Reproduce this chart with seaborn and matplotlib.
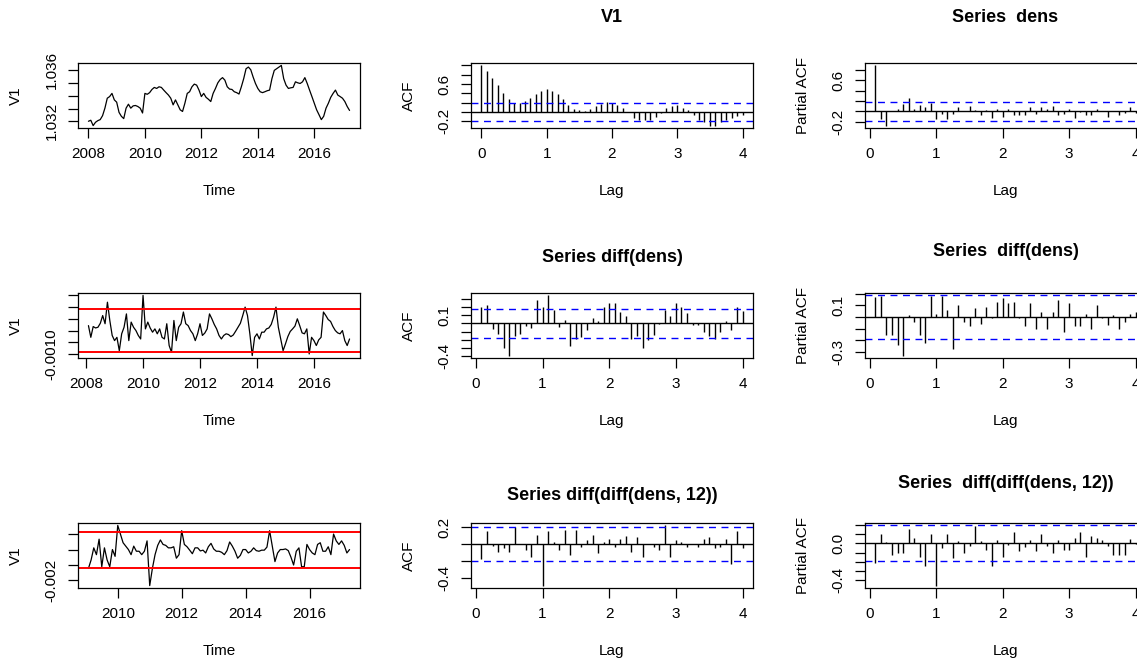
import numpy as np
import pandas as pd
import seaborn as sns
import matplotlib.pyplot as plt

W, H = 1137, 660

# monthly density, Jan 2008 - Apr 2017
dens = [1.0320, 1.03208, 1.03166, 1.03192, 1.03205, 1.03213, 1.03244, 1.03303, 1.03381, 1.03394,
        1.03419, 1.03368, 1.03350, 1.03270, 1.03239, 1.03221, 1.03303, 1.03334, 1.03303, 1.03321,
        1.03324, 1.03316, 1.03303, 1.03265, 1.03419, 1.03412, 1.03425, 1.03450, 1.03466, 1.03458,
        1.03471, 1.03466, 1.03445, 1.03425, 1.03406, 1.03381, 1.03329, 1.03368, 1.03329, 1.03290,
        1.03277, 1.03342, 1.03419, 1.03432, 1.03471, 1.03492, 1.03484, 1.03445, 1.03394, 1.03419,
        1.03388, 1.03373, 1.03355, 1.03419, 1.03458, 1.03502, 1.03528, 1.03543, 1.03523, 1.03471,
        1.03453, 1.03450, 1.03432, 1.03425, 1.03414, 1.03471, 1.03535, 1.03613, 1.03626, 1.03605,
        1.03548, 1.03497, 1.03458, 1.03432, 1.03425, 1.03432, 1.03440, 1.03445, 1.03535, 1.03600,
        1.03613, 1.03626, 1.03639, 1.03535, 1.03484, 1.03458, 1.03463, 1.03466, 1.03510, 1.03502,
        1.03497, 1.03510, 1.03543, 1.03497, 1.03445, 1.03394, 1.03342, 1.03290, 1.03252, 1.03213,
        1.03239, 1.03303, 1.03342, 1.03388, 1.03419, 1.03445, 1.03406, 1.03394, 1.03381, 1.03355,
        1.03316, 1.03285]
dens_start = 2008.0

# diff(dens), units of 1e-4, Feb 2008 - Apr 2017
diff_e4 = [2.1, -2.9, 1.7, 1.1, 1.4, 3.1, 6.4, 2.9, 12.1, 4.3,
           -2.1, -4.3, -2.9, -8.6, -1.4, 1.4, 7.1, -4.3, 3.6, 1.4,
           0.0, -2.1, -3.6, 15.0, 0.7, 3.6, 1.1, -0.7, 0.7, -1.4,
           0.7, -2.9, -3.6, 2.9, -6.4, -9.3, 4.3, -4.3, 1.4, 2.9,
           7.9, 2.9, 2.1, 0.0, -1.4, -4.3, -1.4, 2.9, -2.1, -1.1,
           0.7, 7.1, 5.0, 2.6, 0.7, -2.1, -3.6, -2.1, -1.4, -1.7,
           -2.6, -1.9, -0.3, 1.4, 3.1, 6.4, 10.0, 6.4, -1.4, -10.7,
           -2.9, -1.4, -3.6, -0.7, -0.7, 0.7, 1.1, 2.6, 5.7, 10.0,
           1.4, -3.6, -8.6, -5.7, -2.6, -0.4, 0.7, 1.9, 5.0, 2.1,
           -1.0, -1.4, 0.7, -10.0, -2.9, -4.3, -6.4, -4.0, -2.9, 7.9,
           6.4, 4.7, 3.9, 1.7, 0.0, -1.0, -1.4, 0.0, -4.3, -6.4,
           -3.6]
diff_start = 2008 + 1 / 12
diff_limits = [-9.0e-4, 9.3e-4]

# diff(diff(dens, 12)), units of 1e-4, Feb 2009 - Apr 2017
dd_e4 = [-12.2, -6.7, 1.1, -3.3, 6.7, -11.1, 1.1, -6.7, -11.1, 0.0,
         -4.4, 15.6, 10.0, 4.4, 2.2, 0.0, -3.3, 2.2, -1.1, -1.1,
         -3.3, -1.1, 5.6, -23.3, -12.2, -3.3, 2.7, 6.2, 3.3, 2.7,
         1.1, 1.1, 1.8, -5.6, -3.3, 12.2, 3.3, 1.8, -0.4, -2.7,
         1.1, 1.1, -0.9, -0.4, -2.2, 1.8, 4.0, 0.4, -1.1, -1.1,
         -1.8, -3.3, -0.7, 4.9, 2.2, -1.1, -5.6, -3.8, 0.0, 0.0,
         -2.2, -1.1, 1.1, -0.7, -1.1, -0.4, -0.4, 1.6, 12.2, 2.2,
         -7.8, -2.2, 0.0, 0.0, 0.4, -0.7, -4.9, -10.0, -1.1, 1.1,
         -11.1, -11.1, 3.3, 0.0, -2.2, -3.3, 3.3, 4.4, -1.1, -1.1,
         1.8, -3.3, 10.0, 5.6, 3.3, 5.6, 2.7, -2.2, 0.0]
dd_start = 2009 + 1 / 12
dd_limits = [-11.8e-4, 11.1e-4]

# correlograms (lag 0..48 for acf_dens, lag 1..48 for the rest)
acf_dens = [1.0, 0.89, 0.74, 0.59, 0.40, 0.29, 0.19, 0.20, 0.24, 0.31,
            0.38, 0.46, 0.49, 0.46, 0.38, 0.29, 0.16, 0.07, 0.04, 0.02,
            0.06, 0.13, 0.18, 0.22, 0.19, 0.16, 0.09, 0.00, -0.12, -0.16,
            -0.18, -0.16, -0.11, -0.03, 0.09, 0.13, 0.16, 0.09, 0.04, -0.07,
            -0.16, -0.21, -0.29, -0.29, -0.21, -0.16, -0.12, -0.09, -0.07]
pacf_dens = [0.88, -0.14, -0.27, 0.01, 0.04, 0.14, 0.26, 0.04, 0.13, 0.08,
             0.17, -0.14, -0.04, -0.15, -0.04, 0.09, 0.0, 0.10, 0.03, -0.06,
             0.03, -0.12, 0.05, -0.10, 0.05, -0.06, -0.06, -0.06, 0.08, -0.04,
             0.09, 0.05, 0.10, -0.06, -0.04, 0.05, -0.12, -0.01, -0.06, -0.06,
             0.05, 0.0, -0.10, 0.0, -0.06, -0.02, 0.08, -0.02]
acf_diff = [0.20, 0.23, -0.07, -0.13, -0.30, -0.40, -0.15, -0.13, -0.03, -0.06,
            0.29, 0.20, 0.35, 0.17, -0.04, 0.04, -0.28, -0.19, -0.17, -0.08,
            0.07, 0.03, 0.20, 0.26, 0.26, 0.14, 0.09, -0.19, -0.15, -0.31,
            -0.20, -0.14, -0.01, 0.17, 0.09, 0.26, 0.20, 0.13, -0.02, -0.02,
            -0.11, -0.15, -0.19, -0.11, 0.03, -0.08, 0.20, 0.16]
pacf_diff = [0.17, 0.18, -0.15, -0.15, -0.24, -0.33, 0.015, -0.04, -0.15, -0.22,
             0.18, 0.03, 0.18, 0.06, -0.27, 0.10, -0.04, -0.08, 0.08, -0.06,
             0.09, -0.01, 0.13, 0.16, 0.12, 0.13, -0.01, -0.08, 0.12, -0.10,
             0.04, -0.10, 0.04, 0.15, -0.13, 0.12, -0.08, -0.08, 0.03, -0.10,
             0.10, -0.01, -0.07, 0.015, -0.10, -0.04, 0.03, 0.04]
acf_dd = [-0.18, 0.15, -0.02, -0.09, -0.05, -0.09, 0.20, 0.0, -0.075, -0.15,
          0.11, -0.49, 0.15, 0.02, -0.07, 0.17, -0.13, 0.17, -0.04, 0.05,
          0.11, -0.11, 0.02, 0.06, -0.04, 0.06, 0.10, -0.09, 0.08, -0.15,
          0.0, -0.04, -0.07, 0.22, -0.15, 0.05, 0.03, -0.04, 0.0, -0.04,
          0.06, 0.08, -0.05, -0.04, 0.06, -0.24, 0.15, -0.05]
pacf_dd = [-0.21, 0.10, 0.02, -0.13, -0.10, -0.10, 0.16, 0.06, -0.15, -0.25,
           0.10, -0.46, -0.05, 0.10, -0.16, 0.03, -0.10, -0.03, 0.19, 0.03,
           -0.07, -0.25, 0.04, -0.15, -0.02, 0.13, -0.08, -0.04, 0.04, -0.08,
           0.10, -0.03, -0.10, 0.04, -0.07, -0.07, 0.06, 0.13, -0.15, 0.08,
           0.06, 0.04, -0.03, -0.13, -0.13, -0.13, 0.05, -0.01]

sns.set_style("white", {
    "axes.edgecolor": "black",
    "xtick.bottom": True, "ytick.left": True,
    "xtick.direction": "out", "ytick.direction": "out",
    "xtick.color": "black", "ytick.color": "black",
    "text.color": "black", "axes.labelcolor": "black",
})
plt.rcParams["font.family"] = ["Liberation Sans", "DejaVu Sans"]
plt.rcParams.update({
    "font.size": 11,
    "axes.linewidth": 0.9,
    "xtick.major.size": 7, "ytick.major.size": 7,
    "xtick.major.width": 0.9, "ytick.major.width": 0.9,
    "xtick.major.pad": 7, "ytick.major.pad": 7,
    "xtick.labelsize": 11, "ytick.labelsize": 11,
})

fig = plt.figure(figsize=(W / 100, H / 100), dpi=100)

cols = [(78, 360), (471, 753), (865, 1146)]
rows = [(63, 128), (293, 358), (523, 588)]


def px_axes(col, row):
    l, r = cols[col]
    t, b = rows[row]
    return fig.add_axes([l / W, 1 - b / H, (r - l) / W, (b - t) / H])


def r_lim(vals):
    # R style 4% padding
    lo, hi = min(vals), max(vals)
    d = 0.04 * (hi - lo)
    return lo - d, hi + d


def finish(ax, xlabel, ylabel, xticks, yticks, ylabels):
    l, r = ax.get_position().x0 * W, ax.get_position().x1 * W
    h = ax.get_position().height * H
    ax.set_xticks(xticks, [str(x) for x in xticks])
    ax.set_yticks(yticks, ylabels)
    for lab in ax.get_yticklabels():
        lab.set_rotation(90)
        lab.set_va("center")
    ax.set_xlabel(xlabel)
    ax.set_ylabel(ylabel)
    ax.xaxis.set_label_coords(0.5, -63 / h)
    ax.xaxis.label.set_va("center")
    ax.yaxis.set_label_coords(-62 / (r - l), 0.5)
    ax.yaxis.label.set_va("center")
    ax.yaxis.label.set_ha("center")
    for s in ax.spines.values():
        s.set_visible(True)


def title(ax, text, dy_px):
    ax.annotate(text, xy=(0.5, 1), xycoords="axes fraction",
                xytext=(0, dy_px * 0.72), textcoords="offset points",
                ha="center", va="center", fontsize=13, fontweight="bold")


def plot_ts(ax, start, vals, limits=None):
    t = start + np.arange(len(vals)) / 12
    df = pd.DataFrame({"Time": t, "V1": vals})
    sns.lineplot(data=df, x="Time", y="V1", ax=ax, color="black", lw=0.9)
    if limits:
        for h in limits:
            ax.axhline(h, color="red", lw=1.4)
    ax.set_xlim(r_lim(t))
    ax.set_ylim(r_lim(vals))


def plot_acf(ax, vals, n, first_lag):
    lags = (first_lag + np.arange(len(vals))) / 12
    clim = 1.96 / np.sqrt(n)
    ax.vlines(lags, 0, vals, color="black", lw=1)
    ax.axhline(0, color="black", lw=1)
    for c in (clim, -clim):
        ax.axhline(c, color="blue", lw=1, ls=(0, (5, 4)))
    ax.set_xlim(r_lim(lags))
    ax.set_ylim(r_lim(list(vals) + [clim, -clim]))


lag_ticks = [0, 1, 2, 3, 4]

# row 1
ax = px_axes(0, 0)
plot_ts(ax, dens_start, dens)
finish(ax, "Time", "V1", [2008, 2010, 2012, 2014, 2016],
       [1.032, 1.033, 1.034, 1.035, 1.036], ["1.032", "", "", "", "1.036"])

ax = px_axes(1, 0)
plot_acf(ax, acf_dens, len(dens), 0)
finish(ax, "Lag", "ACF", lag_ticks, [-0.2, 0, 0.2, 0.4, 0.6, 0.8, 1.0],
       ["-0.2", "", "", "", "0.6", "", ""])
title(ax, "V1", 45)

ax = px_axes(2, 0)
plot_acf(ax, pacf_dens, len(dens), 1)
finish(ax, "Lag", "Partial ACF", lag_ticks, [-0.2, 0, 0.2, 0.4, 0.6, 0.8],
       ["-0.2", "", "", "", "0.6", ""])
title(ax, "Series  dens", 45)

# row 2
diff_vals = list(np.array(diff_e4) * 1e-4)
ax = px_axes(0, 1)
plot_ts(ax, diff_start, diff_vals, diff_limits)
finish(ax, "Time", "V1", [2008, 2010, 2012, 2014, 2016],
       [-0.0010, -0.0005, 0, 0.0005, 0.0010, 0.0015], ["-0.0010", "", "", "", "", ""])

ax = px_axes(1, 1)
plot_acf(ax, acf_diff, len(diff_vals), 1)
finish(ax, "Lag", "ACF", lag_ticks, [-0.4, -0.3, -0.2, -0.1, 0, 0.1, 0.2, 0.3],
       ["-0.4", "", "", "", "", "0.1", "", ""])
title(ax, "Series diff(dens)", 35)

ax = px_axes(2, 1)
plot_acf(ax, pacf_diff, len(diff_vals), 1)
finish(ax, "Lag", "Partial ACF", lag_ticks, [-0.3, -0.2, -0.1, 0, 0.1, 0.2],
       ["-0.3", "", "", "", "0.1", ""])
title(ax, "Series  diff(dens)", 41)

# row 3
dd_vals = list(np.array(dd_e4) * 1e-4)
ax = px_axes(0, 2)
plot_ts(ax, dd_start, dd_vals, dd_limits)
finish(ax, "Time", "V1", [2010, 2012, 2014, 2016],
       [-0.002, -0.001, 0, 0.001], ["-0.002", "", "", ""])

ax = px_axes(1, 2)
plot_acf(ax, acf_dd, len(dd_vals), 1)
finish(ax, "Lag", "ACF", lag_ticks, [-0.4, -0.2, 0, 0.2],
       ["-0.4", "", "", "0.2"])
title(ax, "Series diff(diff(dens, 12))", 28)

ax = px_axes(2, 2)
plot_acf(ax, pacf_dd, len(dd_vals), 1)
finish(ax, "Lag", "Partial ACF", lag_ticks, [-0.4, -0.3, -0.2, -0.1, 0, 0.1, 0.2],
       ["-0.4", "", "", "", "0.0", "", ""])
title(ax, "Series  diff(diff(dens, 12))", 40)

fig.savefig("out.png", dpi=100)
